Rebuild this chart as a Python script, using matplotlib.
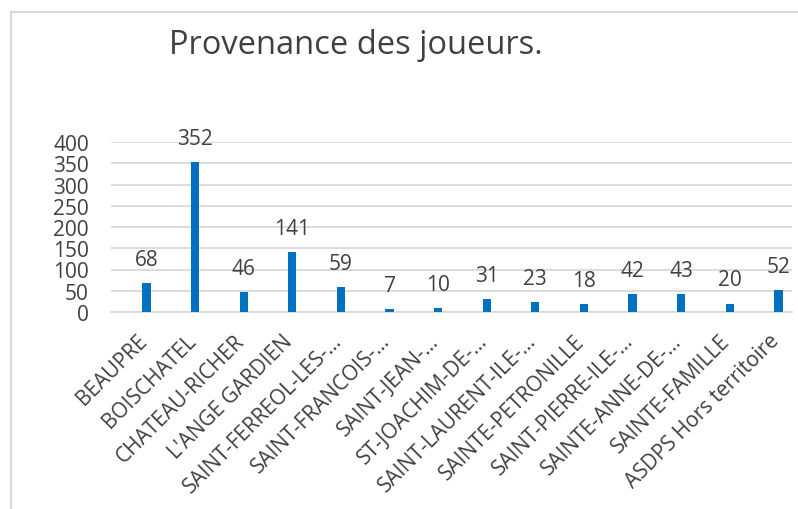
import matplotlib.pyplot as plt
import matplotlib.transforms as mtransforms
from matplotlib.patches import Rectangle

plt.rcParams['font.family'] = ['Open Sans', 'DejaVu Sans']

# Data
communes = [
    "BEAUPRE", "BOISCHATEL", "CHATEAU-RICHER", "L'ANGE GARDIEN",
    "SAINT-FERREOL-LES-…", "SAINT-FRANCOIS-…", "SAINT-JEAN-…",
    "ST-JOACHIM-DE-…", "SAINT-LAURENT-ILE-…", "SAINTE-PETRONILLE",
    "SAINT-PIERRE-ILE-…", "SAINTE-ANNE-DE-…", "SAINTE-FAMILLE",
    "ASDPS Hors territoire",
]
joueurs = [68, 352, 46, 141, 59, 7, 10, 31, 23, 18, 42, 43, 20, 52]

text_color = "#404040"
grid_color = "#D9D9D9"

fig = plt.figure(figsize=(7.98, 5.10), dpi=100)
ax = fig.add_axes([111 / 798, 1 - 313 / 510, 681 / 798, 170 / 510])

x = range(len(communes))
bars = ax.bar(x, joueurs, width=0.17, color="#0070C0", zorder=3)

ax.set_ylim(0, 400)
ax.set_xlim(-0.73, len(communes) - 1 + 0.28)
ax.set_yticks(range(0, 401, 50))
ax.yaxis.grid(True, color=grid_color, linewidth=1.3, zorder=0)
for s in ["top", "right", "left"]:
    ax.spines[s].set_visible(False)
ax.spines["bottom"].set_color(grid_color)
ax.spines["bottom"].set_linewidth(1.3)
ax.tick_params(axis="both", length=0, labelsize=15, colors=text_color)
ax.tick_params(axis="y", pad=16)
ax.set_xticks(list(x))
ax.set_xticklabels(communes, rotation=45, ha="right", rotation_mode="anchor")
ax.tick_params(axis="x", pad=13)
shift = mtransforms.ScaledTranslation(-10 / 100, 0, fig.dpi_scale_trans)
for lab in ax.get_xticklabels():
    lab.set_transform(lab.get_transform() + shift)

for b, v in zip(bars, joueurs):
    ax.annotate(str(v), (b.get_x() + b.get_width() / 2, v),
                xytext=(0, 17), textcoords="offset points",
                ha="center", va="center", fontsize=15, color=text_color)

fig.text(169 / 798, 1 - 45 / 510, "Provenance des joueurs.", fontsize=23.5,
         color=text_color, ha="left", va="center")

# light chart frame (partly cropped in the reference)
fig.patches.append(Rectangle((11 / 798, -0.2), 1.2, 1.2 - 13 / 510,
                             transform=fig.transFigure, fill=False,
                             edgecolor=grid_color, linewidth=1.5))

fig.savefig("out.png", dpi=100)
